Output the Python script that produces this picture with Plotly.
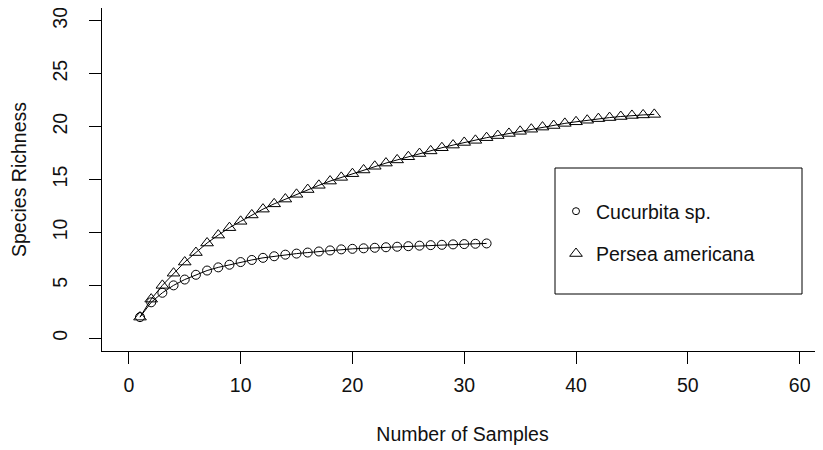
import plotly.graph_objects as go

# Data
samples_cucurbita = list(range(1, 33))
richness_cucurbita = [2.0, 3.4, 4.3, 5.0, 5.55, 6.0, 6.4, 6.7, 6.95, 7.2, 7.4, 7.6, 7.75,
                      7.9, 8.0, 8.1, 8.2, 8.3, 8.4, 8.45, 8.5, 8.55, 8.6, 8.65, 8.7, 8.75,
                      8.8, 8.83, 8.87, 8.9, 8.93, 8.96]

samples_persea = list(range(1, 48))
richness_persea = [2.0, 3.7, 5.0, 6.15, 7.2, 8.1, 9.0, 9.75, 10.45, 11.05, 11.65, 12.2,
                   12.7, 13.15, 13.6, 14.05, 14.45, 14.85, 15.2, 15.55, 15.9, 16.25,
                   16.55, 16.85, 17.15, 17.45, 17.7, 18.0, 18.25, 18.5, 18.7, 18.95,
                   19.15, 19.35, 19.55, 19.75, 19.95, 20.1, 20.3, 20.45, 20.6, 20.75,
                   20.85, 20.95, 21.05, 21.1, 21.15]

series_names = ["Cucurbita sp.", "Persea americana"]
x_ticks = [0, 10, 20, 30, 40, 50, 60]
y_ticks = [0, 5, 10, 15, 20, 25, 30]
x_title = "Number of Samples"
y_title = "Species Richness"

FONT = "Liberation Sans, Arial, sans-serif"
FS = 19.5

# the page body has an 8px margin; size the figure so page = 823x450
OFF = 8
W, H = 823 - OFF, 450 - OFF
L, T, B = 102 - OFF, 8 - OFF, 99
pw = W - L
ph = H - T - B

def sx(px):  # screen px -> paper x
    return (px - OFF - L) / pw

def sy(py):  # screen px -> paper y
    return (H - B - (py - OFF)) / ph

fig = go.Figure()

fig.add_trace(go.Scatter(
    x=samples_cucurbita, y=richness_cucurbita, mode="lines+markers",
    line=dict(color="black", width=1),
    marker=dict(symbol="circle-open", size=9, color="black", line=dict(width=1)),
    showlegend=False, name=series_names[0]))

fig.add_trace(go.Scatter(
    x=samples_persea, y=richness_persea, mode="lines+markers",
    line=dict(color="black", width=1),
    marker=dict(symbol="triangle-up-open", size=11, color="black", line=dict(width=1)),
    showlegend=False, name=series_names[1]))

# legend-only entries (symbol only, as in the reference)
fig.add_trace(go.Scatter(
    x=[None], y=[None], mode="markers", name=series_names[0], legendgroup="a",
    marker=dict(symbol="circle-open", size=7, color="black", line=dict(width=1))))
fig.add_trace(go.Scatter(
    x=[None], y=[None], mode="markers", name=series_names[1], legendgroup="b",
    marker=dict(symbol="triangle-up-open", size=11, color="black", line=dict(width=1))))

# legend frame
fig.add_shape(type="rect", xref="paper", yref="paper",
              x0=sx(555), x1=sx(802), y0=sy(294), y1=sy(168),
              line=dict(color="black", width=1))

fig.update_layout(
    width=W, height=H,
    margin=dict(l=L, r=0, t=T, b=B),
    paper_bgcolor="white", plot_bgcolor="white",
    font=dict(family=FONT, size=FS, color="black"),
    legend=dict(x=sx(556), xanchor="left",
                y=sy(192), yanchor="top",
                bgcolor="rgba(0,0,0,0)", borderwidth=0,
                tracegroupgap=14, traceorder="grouped",
                font=dict(family=FONT, size=FS, color="#111")),
    xaxis=dict(range=[-2.4, -2.4 + pw / 11.18],
               tickvals=x_ticks, ticktext=[str(v) for v in x_ticks],
               showgrid=False, zeroline=False,
               showline=True, linecolor="black", linewidth=1,
               ticks="outside", ticklen=12, tickcolor="black", tickwidth=1,
               ticklabelstandoff=5, ticklabeloverflow="allow",
               tickfont=dict(family=FONT, size=FS, color="#111"),
               title=dict(text=x_title, standoff=31,
                          font=dict(family=FONT, size=FS, color="#111"))),
    yaxis=dict(range=[-1.2, 31.2],
               tickvals=y_ticks, ticktext=[str(v) for v in y_ticks],
               showgrid=False, zeroline=False,
               showline=True, linecolor="black", linewidth=1,
               ticks="outside", ticklen=12, tickcolor="black", tickwidth=1,
               tickangle=-90, ticklabelstandoff=14, ticklabeloverflow="allow",
               tickfont=dict(family=FONT, size=FS, color="#111"),
               title=dict(text=y_title, standoff=18,
                          font=dict(family=FONT, size=FS, color="#111"))),
)

fig.write_html("out.html")
